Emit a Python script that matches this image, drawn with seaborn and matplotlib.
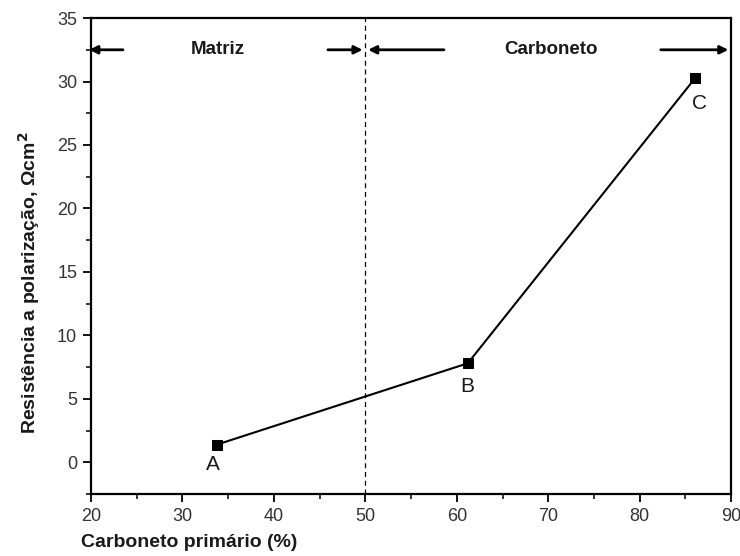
import matplotlib
matplotlib.use("Agg")
import matplotlib.pyplot as plt
import seaborn as sns
import pandas as pd
from matplotlib.ticker import MultipleLocator

# Data
carboneto = [33.8, 61.2, 86.1]
resistencia = [1.4, 7.8, 30.3]
point_labels = ["A", "B", "C"]
region_labels = ["Matriz", "Carboneto"]
boundary = 50

sns.set_theme(style="ticks")
plt.rcParams['font.family'] = ['Liberation Sans', 'DejaVu Sans']

df = pd.DataFrame({"x": carboneto, "y": resistencia})

fig = plt.figure(figsize=(7.4, 5.56), dpi=100)
ax = fig.add_axes([0.123, 0.1115, 0.865, 0.856])

sns.lineplot(data=df, x="x", y="y", ax=ax, color="black", linewidth=1.5,
             marker="s", markersize=7.5, markeredgecolor="black",
             markerfacecolor="black")

# point labels
offsets = [(-0.5, -1.6), (-0.1, -1.8), (0.4, -2.05)]
for xv, yv, lab, (dx, dy) in zip(carboneto, resistencia, point_labels, offsets):
    ax.text(xv + dx, yv + dy, lab, fontsize=15, ha="center", va="center", color="#1a1a1a")

# boundary line
ax.axvline(boundary, color="black", linestyle=(0, (4, 3)), linewidth=0.9)

# region arrows
ay = 32.5
arr = dict(arrowstyle="-|>", color="black", lw=2.0, mutation_scale=12)
ax.annotate("", xy=(19.5, ay), xytext=(23.8, ay), arrowprops=arr, annotation_clip=False)
ax.annotate("", xy=(50, ay), xytext=(45.6, ay), arrowprops=arr, annotation_clip=False)
ax.annotate("", xy=(50, ay), xytext=(58.9, ay), arrowprops=arr, annotation_clip=False)
ax.annotate("", xy=(90, ay), xytext=(82.0, ay), arrowprops=arr, annotation_clip=False)
ax.text(33.9, ay, region_labels[0], fontsize=13.5, fontweight="bold", ha="center", va="center",
        color="#1a1a1a")
ax.text(70.3, ay, region_labels[1], fontsize=13.5, fontweight="bold", ha="center", va="center",
        color="#1a1a1a")

ax.set_xlim(20, 90)
ax.set_ylim(-2.5, 35)
ax.xaxis.set_major_locator(MultipleLocator(10))
ax.xaxis.set_minor_locator(MultipleLocator(5))
ax.yaxis.set_major_locator(MultipleLocator(5))
ax.yaxis.set_minor_locator(MultipleLocator(2.5))
ax.tick_params(which="major", direction="out", length=6, width=1.3, labelsize=13,
               labelcolor="#333333", color="black", pad=4)
ax.tick_params(which="minor", direction="out", length=3.5, width=1.1, color="black")

for s in ax.spines.values():
    s.set_visible(True)
    s.set_linewidth(1.6)
    s.set_color("black")

ax.set_xlabel("Carboneto primário (%)", fontsize=14, fontweight="bold", color="#1a1a1a")
ax.xaxis.set_label_coords(0.153, -0.083)
ax.set_ylabel(r"Resistência a polarização, Ωcm$^\mathbf{2}$", fontsize=14,
              fontweight="bold", color="#1a1a1a")
ax.yaxis.set_label_coords(-0.077, 0.443)

fig.savefig("out.png", dpi=100)
